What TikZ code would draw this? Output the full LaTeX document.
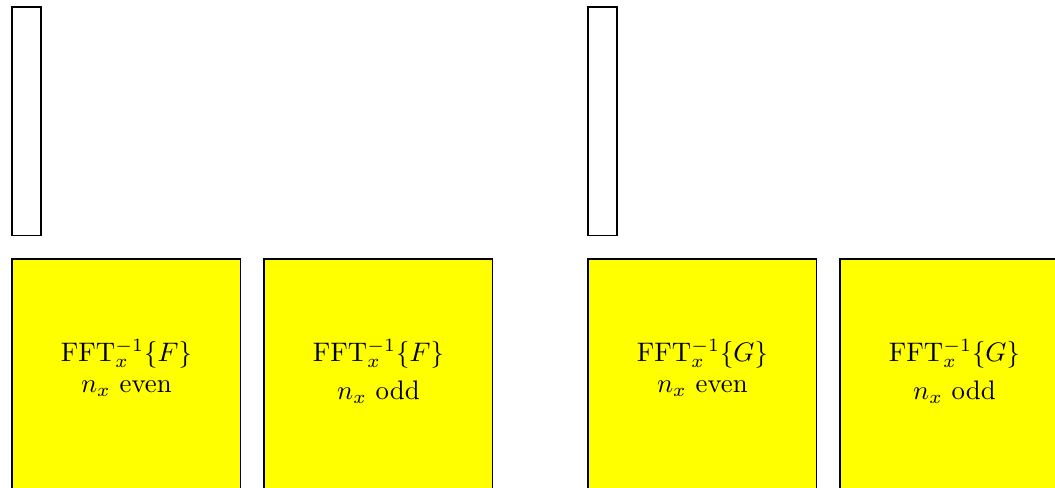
\documentclass[tikz,border=0pt]{standalone}
\definecolor{pureyellow}{RGB}{255,255,0}
\begin{document}
\begin{tikzpicture}[x=0.0131cm, y=-0.0131cm,
  thinbox/.style={draw, line width=0.4pt, anchor=north west, inner sep=0pt, outer sep=0pt, minimum width=0.38cm, minimum height=3cm},
  fftbox/.style={draw, fill=pureyellow, line width=0.4pt, anchor=north west, inner sep=0pt, outer sep=0pt, minimum width=3cm, minimum height=3.2cm},
  lbl/.style={anchor=base, inner sep=0pt}]
\useasboundingbox (0,0) rectangle (1055,487);
% thin rectangles
\node[thinbox] (r1) at (12,7) {};
\node[thinbox] (r2) at (588,7) {};
% yellow boxes
\node[fftbox] (b1) at (12,259) {};
\node[fftbox] (b2) at (264,259) {};
\node[fftbox] (b3) at (588,259) {};
\node[fftbox] (b4) at (840,259) {};
% labels
\node[lbl] (t1) at (b1.north |- 0,361) {FFT$_x^{-1}\{F\}$};
\node[lbl] (s1) at (b1.north |- 0,392) {$n_x$ even};
\node[lbl] (t2) at (b2.north |- 0,361) {FFT$_x^{-1}\{F\}$};
\node[lbl] (s2) at (b2.north |- 0,399) {$n_x$ odd};
\node[lbl] (t3) at (b3.north |- 0,361) {FFT$_x^{-1}\{G\}$};
\node[lbl] (s3) at (b3.north |- 0,392) {$n_x$ even};
\node[lbl] (t4) at (b4.north |- 0,361) {FFT$_x^{-1}\{G\}$};
\node[lbl] (s4) at (b4.north |- 0,399) {$n_x$ odd};
\end{tikzpicture}
\end{document}
